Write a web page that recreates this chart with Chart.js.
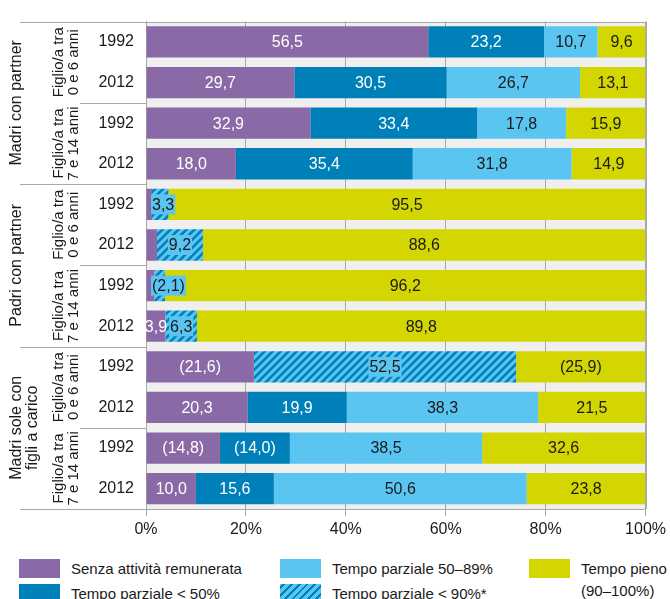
<!DOCTYPE html>
<html>
<head>
<meta charset="utf-8">
<script src="https://cdn.jsdelivr.net/npm/chart.js@4.4.1/dist/chart.umd.min.js"></script>
<style>
  html, body { margin: 0; padding: 0; background: #fff; }
  body { width: 670px; height: 599px; position: relative; overflow: hidden;
         font-family: "Liberation Sans", Arial, sans-serif; color: #1a1a1a; }
  #c { position: absolute; left: 0; top: 0; }
  .lg { position: absolute; font-size: 15px; white-space: nowrap; line-height: 22px; }
  .sw { position: absolute; width: 41px; height: 19px; }
</style>
</head>
<body>
<canvas id="c" width="670" height="548"></canvas>
<div id="legend"></div>
<script>
// ---------- DATA ----------
const years = ['1992','2012','1992','2012','1992','2012','1992','2012','1992','2012','1992','2012'];
const groups = ['Madri con partner', 'Padri con partner', 'Madri sole con\nfigli a carico'];
const subgroups = ['Figlio/a tra\n0 e 6 anni', 'Figlio/a tra\n7 e 14 anni'];
const seriesNames = ['Senza attività remunerata', 'Tempo parziale < 50%', 'Tempo parziale < 90%*', 'Tempo parziale 50–89%', 'Tempo pieno\n(90–100%)'];

const senza     = [56.5, 29.7, 32.9, 18.0, 1.2, 2.2, 1.7, 3.9, 21.6, 20.3, 14.8, 10.0];
const parz50    = [23.2, 30.5, 33.4, 35.4, null, null, null, null, null, 19.9, 14.0, 15.6];
const parz90    = [null, null, null, null, 3.3, 9.2, 2.1, 6.3, 52.5, null, null, null];
const parz5089  = [10.7, 26.7, 17.8, 31.8, null, null, null, null, null, 38.3, 38.5, 50.6];
const pieno     = [9.6, 13.1, 15.9, 14.9, 95.5, 88.6, 96.2, 89.8, 25.9, 21.5, 32.6, 23.8];

// values shown in brackets (low reliability), and values with no label
const bracketed = [[8, 10], [10], [6], [], [8]];
const unlabeled = [[4, 5, 6], [], [], [], []];

const xTicks = [0, 20, 40, 60, 80, 100];

// ---------- STYLE ----------
const FONT = '"Liberation Sans", Arial, sans-serif';
const COL = { purple: '#8a6aa6', dark: '#0080b9', light: '#5bc5f2', yellow: '#d3d600', grid: '#a8a8a8', bg: '#efefef', text: '#1a1a1a' };

function makeHatch() {
  const s = 8, cv = document.createElement('canvas');
  cv.width = s; cv.height = s;
  const g = cv.getContext('2d');
  g.fillStyle = COL.light; g.fillRect(0, 0, s, s);
  g.strokeStyle = COL.dark; g.lineWidth = 2.6;
  g.beginPath();
  g.moveTo(-2, s + 2); g.lineTo(s + 2, -2);
  g.moveTo(-2, 2); g.lineTo(2, -2);
  g.moveTo(s - 2, s + 2); g.lineTo(s + 2, s - 2);
  g.stroke();
  return g.createPattern(cv, 'repeat');
}
const hatch = makeHatch();

const seriesData = [senza, parz50, parz90, parz5089, pieno];
const fills = [COL.purple, COL.dark, hatch, COL.light, COL.yellow];
const labelColors = ['#ffffff', '#ffffff', COL.text, COL.text, COL.text];

const datasets = seriesData.map((d, i) => ({
  label: seriesNames[i],
  data: d,
  backgroundColor: fills[i],
  borderWidth: 0,
  barPercentage: 0.77,
  categoryPercentage: 1.0
}));

function fmt(v, bracket) {
  const s = v.toFixed(1).replace('.', ',');
  return bracket ? '(' + s + ')' : s;
}

const bgPlugin = {
  id: 'bg',
  beforeDraw(chart) {
    const { ctx, chartArea: a } = chart;
    ctx.save();
    ctx.fillStyle = COL.bg;
    ctx.fillRect(a.left, a.top, a.right - a.left, a.bottom - a.top);
    ctx.restore();
  }
};

const labelPlugin = {
  id: 'vals',
  afterDatasetsDraw(chart) {
    const { ctx, chartArea: a } = chart;
    ctx.save();
    ctx.font = '16px ' + FONT;
    ctx.textBaseline = 'middle';
    ctx.textAlign = 'center';
    chart.data.datasets.forEach((ds, di) => {
      const meta = chart.getDatasetMeta(di);
      meta.data.forEach((el, i) => {
        const v = ds.data[i];
        if (v == null || unlabeled[di].includes(i)) return;
        const txt = fmt(v, bracketed[di].includes(i));
        let x = (el.x + el.base) / 2;
        const w = ctx.measureText(txt).width;
        if (di === 2) {
          if (x - w / 2 < a.left + 6) x = a.left + 6 + w / 2;
          ctx.fillStyle = COL.light;
          ctx.fillRect(x - w / 2 - 1, el.y - 10, w + 2, 20);
        }
        ctx.fillStyle = labelColors[di];
        ctx.fillText(txt, x, el.y + 1);
      });
    });
    ctx.restore();
  }
};

const framePlugin = {
  id: 'frame',
  afterDraw(chart) {
    const { ctx, chartArea: a } = chart;
    const y = chart.scales.y;
    const n = years.length;
    const bound = k => k <= 0 ? a.top : (k >= n ? a.bottom : (y.getPixelForValue(k - 1) + y.getPixelForValue(k)) / 2);
    ctx.save();
    ctx.strokeStyle = COL.grid;
    ctx.lineWidth = 1;
    ctx.beginPath();
    ctx.moveTo(20, Math.round(a.top) + 0.5); ctx.lineTo(a.right, Math.round(a.top) + 0.5);
    ctx.moveTo(Math.round(a.right) + 0.5, a.top); ctx.lineTo(Math.round(a.right) + 0.5, a.bottom);
    ctx.moveTo(20, Math.round(a.bottom) + 0.5); ctx.lineTo(a.left, Math.round(a.bottom) + 0.5);
    for (let g = 1; g < groups.length; g++) {
      const yy = Math.round(bound(g * 4)) + 0.5;
      ctx.moveTo(20, yy); ctx.lineTo(a.left, yy);
    }
    for (let g = 0; g < groups.length; g++) {
      const yy = Math.round(bound(g * 4 + 2)) + 0.5;
      ctx.moveTo(80, yy); ctx.lineTo(a.left, yy);
    }
    ctx.stroke();

    ctx.fillStyle = COL.text;
    ctx.textAlign = 'center';
    ctx.textBaseline = 'middle';
    const rotText = (txt, x0, yc, lh) => {
      const lines = txt.split('\n');
      lines.forEach((ln, k) => {
        ctx.save();
        ctx.translate(x0 + k * lh, yc);
        ctx.rotate(-Math.PI / 2);
        ctx.fillText(ln, 0, 0);
        ctx.restore();
      });
    };
    groups.forEach((g, gi) => {
      const yc = (bound(gi * 4) + bound(gi * 4 + 4)) / 2;
      ctx.font = '16px ' + FONT;
      rotText(g, 17, yc, 16);
      ctx.font = '15px ' + FONT;
      subgroups.forEach((s, si) => {
        const yc2 = (bound(gi * 4 + si * 2) + bound(gi * 4 + si * 2 + 2)) / 2;
        rotText(s, 59, yc2, 14.5);
      });
    });
    ctx.restore();
  }
};

new Chart(document.getElementById('c'), {
  type: 'bar',
  data: { labels: years, datasets },
  options: {
    indexAxis: 'y',
    responsive: false,
    animation: false,
    devicePixelRatio: 1,
    layout: { padding: { top: 11, right: 23, bottom: 0, left: 0 } },
    plugins: { legend: { display: false }, tooltip: { enabled: false } },
    scales: {
      x: {
        stacked: true, min: 0, max: 100,
        afterBuildTicks(s) { s.ticks = xTicks.map(v => ({ value: v })); },
        afterFit(s) { s.height = 39; },
        grid: { color: COL.grid, lineWidth: 1, tickLength: 7, drawTicks: true },
        border: { display: true, color: COL.grid },
        ticks: { callback: v => v + '%', padding: 4, color: COL.text, font: { family: FONT, size: 16 }, maxRotation: 0 }
      },
      y: {
        stacked: true,
        afterFit(s) { s.width = 146; },
        grid: { display: false, drawTicks: false },
        border: { display: true, color: COL.grid },
        ticks: { padding: 12, color: COL.text, font: { family: FONT, size: 16 } }
      }
    }
  },
  plugins: [bgPlugin, labelPlugin, framePlugin]
});

// ---------- LEGEND (HTML) ----------
const legendItems = [
  { i: 0, x: 19, y: 559 }, { i: 3, x: 280, y: 559 }, { i: 4, x: 529, y: 559 },
  { i: 1, x: 19, y: 584 }, { i: 2, x: 280, y: 584 }
];
const swatchCss = [COL.purple, COL.dark,
  'repeating-linear-gradient(-45deg, ' + COL.dark + ' 0 2px, ' + COL.light + ' 2px 5.5px)',
  COL.light, COL.yellow];
const lg = document.getElementById('legend');
legendItems.forEach(it => {
  const sw = document.createElement('div');
  sw.className = 'sw';
  sw.style.left = it.x + 'px'; sw.style.top = it.y + 'px';
  sw.style.background = swatchCss[it.i];
  lg.appendChild(sw);
  const t = document.createElement('div');
  t.className = 'lg';
  t.style.left = (it.x + 52) + 'px'; t.style.top = (it.y - 1) + 'px';
  t.innerHTML = seriesNames[it.i].replace(/</g, '&lt;').replace('\n', '<br>');
  lg.appendChild(t);
});
</script>
</body>
</html>
